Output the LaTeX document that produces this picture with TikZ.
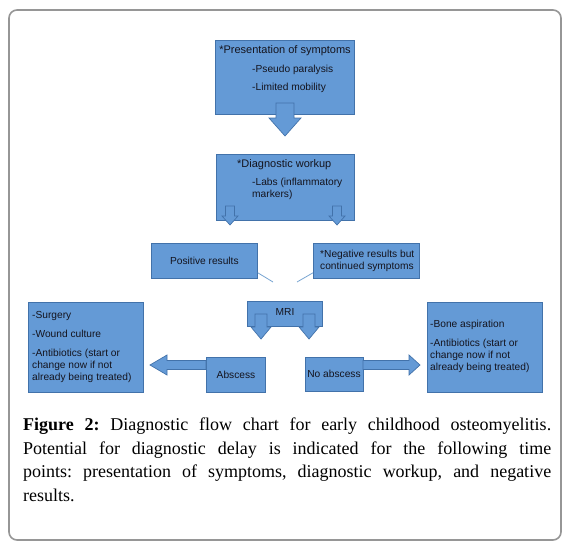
\documentclass[tikz,border=0pt]{standalone}
\usepackage{fontspec}
\setmainfont{Liberation Serif}
\newfontfamily\boxfont{Liberation Sans}
\definecolor{boxfill}{RGB}{100,154,214}
\definecolor{boxline}{RGB}{66,114,170}
\definecolor{thinline}{RGB}{120,165,210}
\definecolor{framegray}{RGB}{150,150,150}
\definecolor{boxtext}{RGB}{20,20,30}
\newcommand\downblk[6]{% x, ytop, ytip, shaft half, head half, head length
  \filldraw[blk] (#1-#4,#2) -- (#1+#4,#2) -- (#1+#4,#3-#6) -- (#1+#5,#3-#6) -- (#1,#3)
    -- (#1-#5,#3-#6) -- (#1-#4,#3-#6) -- cycle;}
\newcommand\horblk[6]{% xstart, xheadbase, xtip, y, shaft half, head half
  \filldraw[blk] (#1,#4-#5) -- (#2,#4-#5) -- (#2,#4-#6) -- (#3,#4)
    -- (#2,#4+#6) -- (#2,#4+#5) -- (#1,#4+#5) -- cycle;}
\frenchspacing
\begin{document}
\begin{tikzpicture}[x=1pt,y=-1pt,
  bx/.style={draw=boxline, fill=boxfill, line width=0.8pt, anchor=north west, inner sep=0pt},
  blk/.style={draw=boxline, fill=boxfill, line width=0.7pt, line join=miter},
  txt/.style={font=\boxfont\fontsize{10.2}{12}\selectfont, inner sep=0pt, text=boxtext, align=left},
  ttl/.style={font=\boxfont\fontsize{11}{13}\selectfont, inner sep=0pt, text=boxtext},
  conn/.style={draw=thinline, line width=0.8pt}]
\useasboundingbox (0,0) rectangle (568,551);
\fill[white] (0,0) rectangle (568,551);
\draw[framegray, line width=1.6pt, rounded corners=8pt] (9,10) rectangle (561,540);

% boxes
\node[bx, minimum width=139, minimum height=74] (pres) at (215,40) {};
\node[bx, minimum width=138, minimum height=66] (diag) at (216,154) {};
\node[bx, minimum width=106, minimum height=35] (pos) at (151,243) {};
\node[bx, minimum width=106, minimum height=35] (neg) at (313,243) {};
\node[bx, minimum width=75, minimum height=25] (mri) at (247,301) {};
\node[bx, minimum width=115, minimum height=90] (lbox) at (28,302) {};
\node[bx, minimum width=59, minimum height=35] (absc) at (206,357) {};
\node[bx, minimum width=58, minimum height=34] (noab) at (305,357) {};
\node[bx, minimum width=115, minimum height=90] (rbox) at (427,302) {};

% texts
\node[ttl] (t1) at (285,51) {*Presentation of symptoms};
\node[txt, anchor=west] (t2) at (252,70) {-Pseudo paralysis};
\node[txt, anchor=west] (t3) at (252,88) {-Limited mobility};
\node[ttl, anchor=west] (t4) at (237,165) {*Diagnostic workup};
\node[txt, anchor=west] (t5) at (252,189) {-Labs (inflammatory\\markers)};
\node[txt] (t6) at (pos.center) {Positive results};
\node[txt, anchor=west] (t7) at (320,260.5) {*Negative results but\\continued symptoms};
\node[txt] (t8) at (285,312) {MRI};
\node[txt, anchor=west] (t9) at (32,316) {-Surgery};
\node[txt, anchor=west] (t10) at (32,334) {-Wound culture};
\node[txt, anchor=west] (t11) at (32,366) {-Antibiotics (start or\\change now if not\\already being treated)};
\node[txt] (t12) at (236,375) {Abscess};
\node[txt] (t13) at (334,374) {No abscess};
\node[txt, anchor=west] (t14) at (430,325) {-Bone aspiration};
\node[txt, anchor=west] (t15) at (430,356) {-Antibiotics (start or\\change now if not\\already being treated)};

% block arrows
\downblk{285}{103}{136}{9}{16}{18}
\downblk{230}{206}{225}{4.5}{8}{9}
\downblk{337}{206}{225}{4.5}{8}{9}
\downblk{261}{314}{339}{6}{10}{12}
\downblk{309}{314}{339}{6}{10}{12}
\horblk{206}{167}{150}{365}{4.5}{10}
\horblk{363}{409}{420}{365}{4.5}{10}

% thin connectors
\coordinate (pj) at (273,282);
\coordinate (nj) at (297,282);
\draw[conn] ([yshift=6pt]pos.south east) -- (pj);
\draw[conn] ([yshift=6pt]neg.south west) -- (nj);

% caption
\node[anchor=north west, text width=528, align=justify, inner sep=0pt,
      font=\fontsize{18}{23.5}\selectfont] (cap) at (23,418)
  {\textbf{Figure 2:} Diagnostic flow chart for early childhood osteomyelitis.\linebreak
   Potential for diagnostic delay is indicated for the following time\linebreak
   points: presentation of symptoms, diagnostic workup, and negative\linebreak
   results.};
\end{tikzpicture}
\end{document}
